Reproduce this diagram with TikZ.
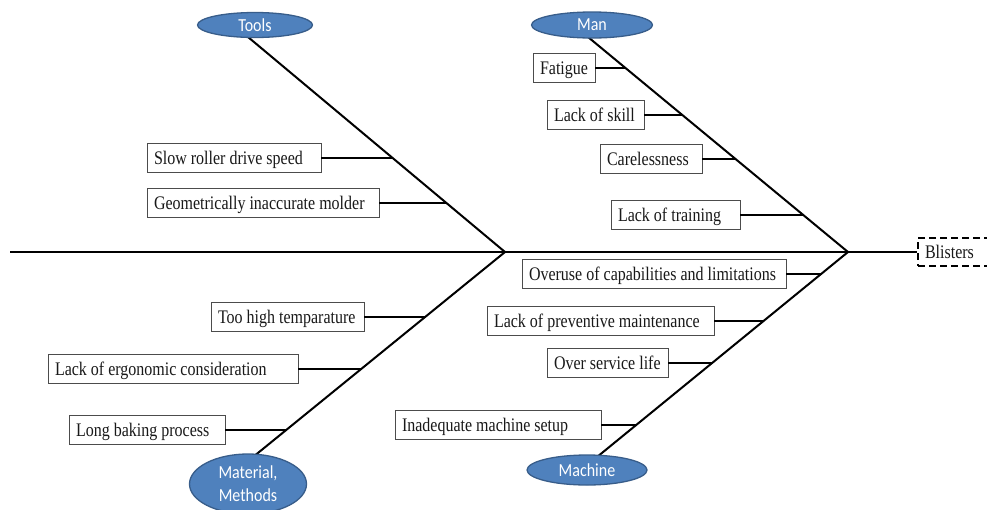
\documentclass[tikz,border=0pt]{standalone}
\usepackage{fontspec}
\setmainfont{Liberation Serif}
\newfontfamily\calib{Carlito}
\usetikzlibrary{shapes.geometric,intersections}
\definecolor{catfill}{HTML}{4F81BD}
\definecolor{catedge}{HTML}{385D8A}
\newcommand\lbx[2]{\makebox[#1pt][l]{\raisebox{0pt}[13pt][0pt]{\scalebox{1}[1.2]{#2}}}}
\newcommand\vst[1]{\scalebox{1}[1.15]{#1}}
\begin{document}
\begin{tikzpicture}[x=1pt,y=-1pt,
  bone/.style={line width=2pt, black},
  branch/.style={line width=2pt, black},
  cbox/.style={draw=black!70, line width=0.9pt, fill=white, inner xsep=7pt, inner ysep=0pt,
    minimum height=29pt, font=\fontsize{16}{19}\selectfont, text=black!90},
  cat/.style={ellipse, draw=catedge, line width=1.3pt, fill=catfill, text=white, inner sep=0pt,
    font=\calib\fontsize{16}{23}\selectfont, align=center},
  effect/.style={draw, dash pattern=on 7pt off 4pt, line width=1.8pt, fill=white, inner xsep=7pt,
    inner ysep=0pt, minimum height=28pt, font=\fontsize{16}{19}\selectfont, text=black!90}]
\useasboundingbox (0,0) rectangle (987,509);

\coordinate (j1) at (505,252);
\coordinate (j2) at (848,252);
\coordinate (tb) at (248,37);
\coordinate (mb) at (588,37);
\coordinate (matb) at (253,457);
\coordinate (macb) at (597,457);
\coordinate (tail) at (10,252);

\node[effect] (eff) at (954,252) {\lbx{58}{Blisters}};

\draw[bone, line width=2.2pt] (tail) -- (eff.west);
\draw[bone, name path=toolsbone] (tb) -- (j1);
\draw[bone, name path=manbone] (mb) -- (j2);
\draw[bone, name path=matbone] (matb) -- (j1);
\draw[bone, name path=macbone] (macb) -- (j2);

\node[cbox] (fat) at (564,67.5) {\lbx{48}{Fatigue}};
\node[cbox] (skill) at (595.5,114.5) {\lbx{83}{Lack of skill}};
\node[cbox] (care) at (651,158.5) {\lbx{88}{Carelessness}};
\node[cbox] (train) at (675.5,215) {\lbx{115}{Lack of training}};
\node[cbox] (slow) at (234,157.5) {\lbx{160}{Slow roller drive speed}};
\node[cbox] (geo) at (263,202.5) {\lbx{218}{Geometrically inaccurate molder}};
\node[cbox] (hot) at (287.5,316.5) {\lbx{139}{Too high temparature}};
\node[cbox] (ergo) at (173,369) {\lbx{236}{Lack of ergonomic consideration}};
\node[cbox] (bake) at (147,429.5) {\lbx{142}{Long baking process}};
\node[cbox] (over) at (654,273.5) {\lbx{250}{Overuse of capabilities and limitations}};
\node[cbox] (prev) at (600.5,320.5) {\lbx{213}{Lack of preventive maintenance}};
\node[cbox] (life) at (607.5,362.5) {\lbx{107}{Over service life}};
\node[cbox] (setup) at (498,424.5) {\lbx{192}{Inadequate machine setup}};

\foreach \b/\p in {fat/manbone, skill/manbone, care/manbone, train/manbone,
  slow/toolsbone, geo/toolsbone, hot/matbone, ergo/matbone, bake/matbone,
  over/macbone, prev/macbone, life/macbone, setup/macbone} {
  \path[name path=hray] (\b.east) -- ++(400,0);
  \draw[branch, name intersections={of=hray and \p}] (\b.east) -- (intersection-1);
}

\node[cat, minimum width=115pt, minimum height=25pt] (tools) at (255,25) {\vst{Tools}};
\node[cat, minimum width=121pt, minimum height=26pt] (man) at (592,25) {\vst{Man}};
\node[cat, minimum width=117pt, minimum height=60pt] (mat) at (248,484) {\vst{Material,}\\\vst{Methods}};
\node[cat, minimum width=120pt, minimum height=30pt] (mach) at (587,470) {\vst{Machine}};
\end{tikzpicture}
\end{document}
